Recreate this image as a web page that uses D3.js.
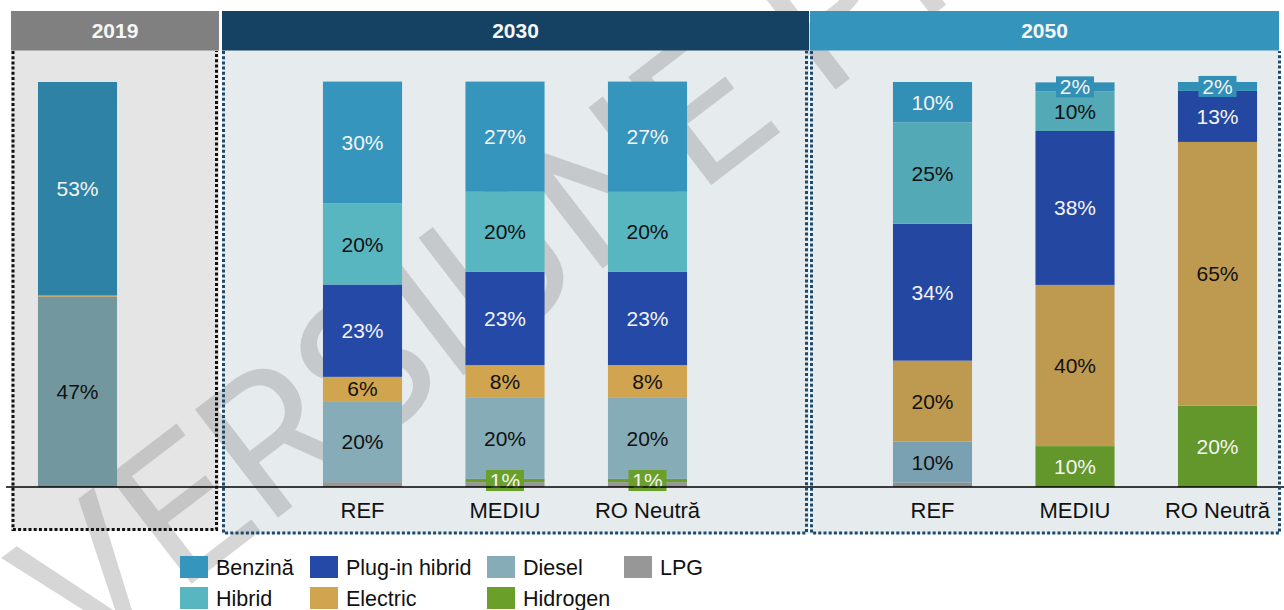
<!DOCTYPE html>
<html>
<head>
<meta charset="utf-8">
<script src="https://cdn.jsdelivr.net/npm/d3@7"></script>
<style>
  html, body { margin: 0; padding: 0; background: #ffffff; }
  svg { display: block; font-family: "Liberation Sans", Arial, sans-serif; }
</style>
</head>
<body>
<svg id="chart" width="1284" height="610"></svg>
<script>
// ---- data -------------------------------------------------------------
const periods = ["2019", "2030", "2050"];
const bars = ["2019", "REF 2030", "MEDIU 2030", "RO Neutră 2030", "REF 2050", "MEDIU 2050", "RO Neutră 2050"];
const barPeriod = ["2019", "2030", "2030", "2030", "2050", "2050", "2050"];
const barLabel = ["", "REF", "MEDIU", "RO Neutră", "REF", "MEDIU", "RO Neutră"];
// slot order on the x axis (empty slots separate the periods)
const slots = ["2019", "gap1", "REF 2030", "MEDIU 2030", "RO Neutră 2030", "gap2", "REF 2050", "MEDIU 2050", "RO Neutră 2050"];

// series, listed bottom to top of each stack
const seriesNames = ["LPG", "Hidrogen", "Diesel", "Electric", "Plug-in hibrid", "Hibrid", "Benzină"];
const lpg      = [0,    1.2,  1.2,  1.2,  1.1,  0,    0];
const hidrogen = [0,    0,    0.8,  0.8,  0,    10.1, 20.1];
const diesel   = [47.0, 20.0, 20.0, 20.0, 10.1, 0,    0];
const electric = [0.3,  6.0,  8.1,  8.1,  20.0, 39.8, 65.1];
const plugin   = [0,    22.8, 23.0, 23.0, 33.8, 38.0, 12.6];
const hibrid   = [0,    20.0, 19.8, 19.8, 25.0, 9.8,  0];
const benzina  = [52.7, 30.1, 27.2, 27.2, 10.0, 2.2,  2.2];
const seriesValues = [lpg, hidrogen, diesel, electric, plugin, hibrid, benzina];

// legend layout: two rows
const legendRows = [
  ["Benzină", "Plug-in hibrid", "Diesel", "LPG"],
  ["Hibrid", "Electric", "Hidrogen"]
];

// ---- styles -----------------------------------------------------------
const legendColors = {
  "Benzină": "#3595bd", "Hibrid": "#58b6c0", "Plug-in hibrid": "#2549a6",
  "Electric": "#d1a54f", "Diesel": "#85acb7", "Hidrogen": "#6a9f2a", "LPG": "#979797"
};
const periodColors = {
  "2019": { "Benzină": "#2e82a5", "Electric": "#c49a48", "Diesel": "#73979f" },
  "2030": legendColors,
  "2050": { "Benzină": "#328fb6", "Hibrid": "#53a9b5", "Plug-in hibrid": "#2447a1",
            "Electric": "#be9a51", "Diesel": "#79a1b1", "Hidrogen": "#63972c", "LPG": "#8f8f8f" }
};
const whiteText = new Set(["Benzină", "Plug-in hibrid", "Hidrogen"]);
const panels = {
  "2019": { x0: 11,  x1: 219,  head: "#808080", body: "#e5e5e5", border: "#111111", bx0: 13,  bx1: 216.5, by1: 529.5 },
  "2030": { x0: 222, x1: 809,  head: "#154263", body: "#e6ebee", border: "#1b4a6e", bx0: 223.5, bx1: 806.5, by1: 533 },
  "2050": { x0: 810, x1: 1279, head: "#3594bc", body: "#e6ebee", border: "#1b4a6e", bx0: 811.5, bx1: 1279.5, by1: 533 }
};

// ---- scales -----------------------------------------------------------
const svg = d3.select("#chart");
const x = d3.scaleBand().domain(slots).range([6.25, 1288.75]).paddingInner(0.445).paddingOuter(0.2225);
const y = d3.scaleLinear().domain([0, 100]).range([487, 82]);

// panel bodies
periods.forEach(p => {
  const c = panels[p];
  svg.append("rect").attr("x", c.x0).attr("y", 50).attr("width", c.x1 - c.x0).attr("height", c.by1 + 1 - 50)
    .attr("fill", c.body);
});

// diagonal draft watermark, behind the bars
svg.append("text")
  .attr("transform", "translate(82,668) rotate(-37.5)")
  .attr("font-family", "Roboto, 'DejaVu Sans', sans-serif")
  .attr("font-weight", 400)
  .attr("font-size", 192)
  .attr("fill", "rgba(140,140,140,0.36)")
  .text("VERSIUNE PRELIMINARĂ");

// panel headers
periods.forEach(p => {
  const c = panels[p];
  svg.append("rect").attr("x", c.x0).attr("y", 11).attr("width", c.x1 - c.x0).attr("height", 39.5)
    .attr("fill", c.head);
  svg.append("text").attr("x", (c.x0 + c.x1) / 2).attr("y", 38).attr("text-anchor", "middle")
    .attr("font-size", 21).attr("font-weight", "bold").attr("fill", "#f6f6f6").text(p);
});

// stacked bars
const table = bars.map((b, i) => {
  const row = { bar: b, period: barPeriod[i] };
  seriesNames.forEach((s, k) => row[s] = seriesValues[k][i]);
  return row;
});
const stack = d3.stack().keys(seriesNames)(table);

const gBars = svg.append("g");
stack.forEach(layer => {
  const name = layer.key;
  layer.forEach((seg, i) => {
    const v = seg[1] - seg[0];
    if (v <= 0) return;
    const p = barPeriod[i];
    gBars.append("rect")
      .attr("x", x(bars[i])).attr("width", x.bandwidth())
      .attr("y", y(seg[1])).attr("height", y(seg[0]) - y(seg[1]))
      .attr("fill", periodColors[p][name]);
  });
});

// value labels
const gLabels = svg.append("g").attr("font-size", 21).attr("text-anchor", "middle");
stack.forEach(layer => {
  const name = layer.key;
  if (name === "LPG") return;
  layer.forEach((seg, i) => {
    const v = seg[1] - seg[0];
    if (v < 0.5) return;
    const p = barPeriod[i];
    const cx = x(bars[i]) + x.bandwidth() / 2;
    const cy = (y(seg[0]) + y(seg[1])) / 2;
    const h = y(seg[0]) - y(seg[1]);
    const txt = Math.round(v) + "%";
    if (h < 14) {
      gLabels.append("rect").attr("x", cx - 19).attr("y", cy - 10.5).attr("width", 38).attr("height", 21)
        .attr("fill", periodColors[p][name]);
    }
    gLabels.append("text").attr("x", cx).attr("y", cy + 7.5)
      .attr("fill", whiteText.has(name) ? "#f4f4f4" : "#111111")
      .text(txt);
  });
});

// baseline
svg.append("line").attr("x1", 6).attr("x2", 1284).attr("y1", y(0)).attr("y2", y(0))
  .attr("stroke", "#000000").attr("stroke-width", 1.6);

// scenario labels
bars.forEach((b, i) => {
  if (!barLabel[i]) return;
  svg.append("text").attr("x", x(b) + x.bandwidth() / 2).attr("y", 518).attr("text-anchor", "middle")
    .attr("font-size", 22).attr("fill", "#111111").text(barLabel[i]);
});

// dotted panel frames
periods.forEach(p => {
  const c = panels[p];
  svg.append("path")
    .attr("d", `M${c.bx0},51 V${c.by1} H${c.bx1} V51`)
    .attr("fill", "none").attr("stroke", c.border).attr("stroke-width", 3)
    .attr("stroke-dasharray", "3,2.2");
});

// legend
const legendX = [180, 310, 487, 624];
const legendY = [567, 598];
legendRows.forEach((row, r) => {
  row.forEach((name, c) => {
    const g = svg.append("g").attr("transform", `translate(${legendX[c]},${legendY[r]})`);
    g.append("rect").attr("x", 0).attr("y", -11).attr("width", 28).attr("height", 22)
      .attr("fill", legendColors[name]);
    g.append("text").attr("x", 36).attr("y", 7.5).attr("font-size", 21.5).attr("fill", "#111111").text(name);
  });
});
</script>
</body>
</html>
